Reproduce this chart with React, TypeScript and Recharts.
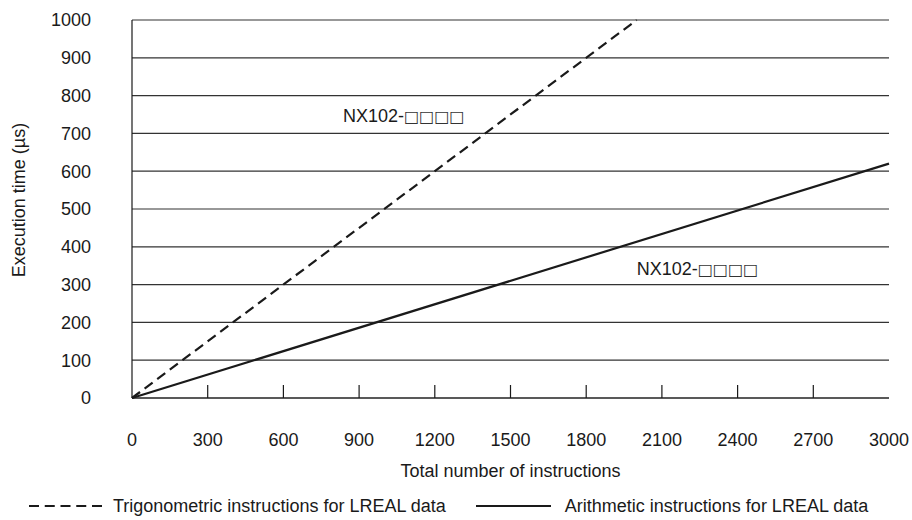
import React from "react";
import {
  LineChart,
  Line,
  XAxis,
  YAxis,
  CartesianGrid,
  Legend,
  ReferenceDot,
} from "recharts";

// execution time vs. number of instructions (NX102)
const trigCounts = [0, 2000];
const trigTimes = [0, 1000];
const arithCounts = [0, 3000];
const arithTimes = [0, 620];

const xTicks = [0, 300, 600, 900, 1200, 1500, 1800, 2100, 2400, 2700, 3000];
const yTicks = [0, 100, 200, 300, 400, 500, 600, 700, 800, 900, 1000];

const modelPrefix = "NX102-";
const modelSuffix = "\u25A1\u25A1\u25A1\u25A1";
const labelCounts = [836, 2000];
const labelTimes = [730, 325];

const trigData = trigCounts.map((n, i) => ({ n, t: trigTimes[i] }));
const arithData = arithCounts.map((n, i) => ({ n, t: arithTimes[i] }));

const FONT = '"Liberation Sans", Arial, Helvetica, sans-serif';
const INK = "#1a1a1a";

function XTick(props: any) {
  const { x, y, payload } = props;
  const v = payload.value;
  const inner = v !== 0 && v !== 3000;
  return (
    <g>
      {inner && <line x1={x} x2={x} y1={y - 13} y2={y} stroke={INK} strokeWidth={1.2} />}
      <text x={x} y={y + 48} textAnchor="middle" fontSize={18} fill={INK} fontFamily={FONT}>
        {v}
      </text>
    </g>
  );
}

function YTitle(props: any) {
  const vb = props.viewBox;
  const cx = 25;
  const cy = vb.y + vb.height / 2 - 9;
  return (
    <text
      x={cx}
      y={cy}
      transform={`rotate(-90, ${cx}, ${cy})`}
      textAnchor="middle"
      fontSize={18}
      fill={INK}
      fontFamily={FONT}
    >
      Execution time (µs)
    </text>
  );
}

function ModelTag(props: any) {
  return (
    <text x={props.cx} y={props.cy} fontSize={18} fill={INK} fontFamily={FONT}>
      {modelPrefix}
      <tspan fontFamily='"DejaVu Sans"' fontSize={16} fill="#333">
        {modelSuffix}
      </tspan>
    </text>
  );
}

function LegendBox() {
  const txt: React.CSSProperties = { fontSize: 18, color: INK, fontFamily: FONT, whiteSpace: "nowrap" };
  return (
    <div style={{ height: 24, lineHeight: "20px", display: "flex", alignItems: "flex-start" }}>
      <svg width={73} height={20} style={{ marginLeft: 29 }}>
        <line x1={0} x2={73} y1={10} y2={10} stroke={INK} strokeWidth={2.2} strokeDasharray="10 5.75" />
      </svg>
      <span style={{ ...txt, marginLeft: 11 }}>Trigonometric instructions for LREAL data</span>
      <svg width={75} height={20} style={{ marginLeft: 30 }}>
        <line x1={0} x2={75} y1={10} y2={10} stroke={INK} strokeWidth={2.2} />
      </svg>
      <span style={{ ...txt, marginLeft: 14 }}>Arithmetic instructions for LREAL data</span>
    </div>
  );
}

export default function App() {
  return (
    <div style={{ position: "absolute", left: 0, top: 0, width: 912, height: 520, background: "#fff" }}>
      <LineChart width={912} height={520} margin={{ top: 20, right: 23, bottom: 0, left: 0 }}>
        <CartesianGrid horizontal vertical={false} stroke="#333" strokeWidth={1.2} />
        <XAxis
          dataKey="n"
          type="number"
          domain={[0, 3000]}
          ticks={xTicks}
          interval={0}
          height={98}
          tickSize={0}
          tickMargin={0}
          tickLine={false}
          axisLine={{ stroke: INK, strokeWidth: 1.2 }}
          tick={<XTick />}
          label={{
            value: "Total number of instructions",
            position: "insideBottom",
            offset: 19,
            fontSize: 18,
            fill: INK,
            fontFamily: FONT,
          }}
        />
        <YAxis
          type="number"
          domain={[0, 1000]}
          ticks={yTicks}
          interval={0}
          width={132}
          tickSize={0}
          tickMargin={41}
          tickLine={false}
          axisLine={{ stroke: INK, strokeWidth: 1.2 }}
          tick={{ fontSize: 18, fill: INK, fontFamily: FONT }}
          label={<YTitle />}
        />
        <YAxis
          yAxisId="right"
          orientation="right"
          type="number"
          domain={[0, 1000]}
          width={0}
          tick={false}
          tickLine={false}
          axisLine={{ stroke: INK, strokeWidth: 1.2 }}
        />
        <Legend verticalAlign="bottom" content={<LegendBox />} />
        <Line
          data={trigData}
          dataKey="t"
          type="linear"
          stroke={INK}
          strokeWidth={2.2}
          strokeDasharray="10 5.75"
          dot={false}
          isAnimationActive={false}
        />
        <Line
          data={arithData}
          dataKey="t"
          type="linear"
          stroke={INK}
          strokeWidth={2.2}
          dot={false}
          isAnimationActive={false}
        />
        {labelCounts.map((n, i) => (
          <ReferenceDot key={i} x={n} y={labelTimes[i]} r={0} shape={<ModelTag />} />
        ))}
      </LineChart>
    </div>
  );
}
